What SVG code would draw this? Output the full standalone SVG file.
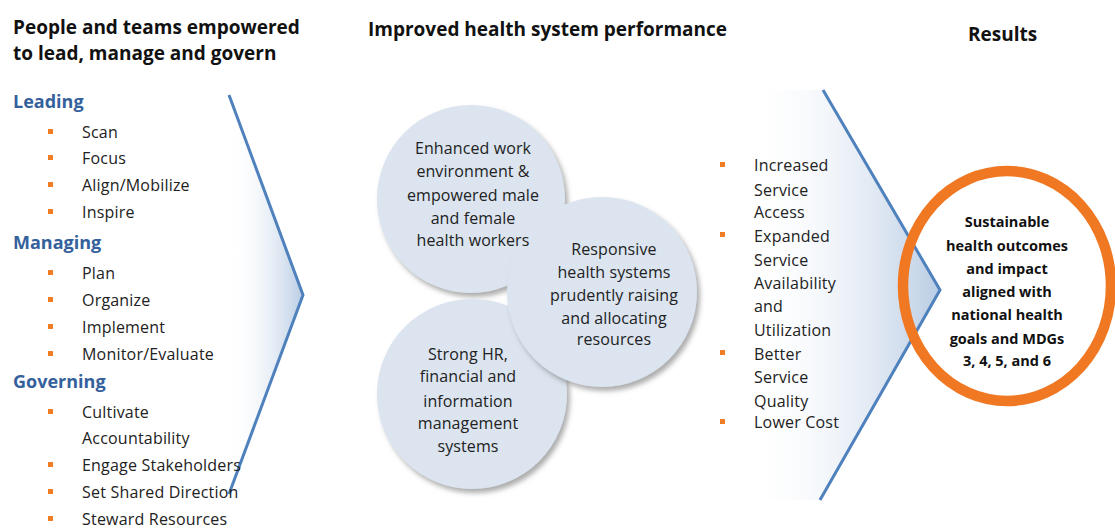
<svg xmlns="http://www.w3.org/2000/svg" width="1115" height="528" viewBox="0 0 1115 528">
<style>
text{font-family:"Open Sans","Liberation Sans",sans-serif;fill:#222}
.title{font-size:19px;font-weight:bold;fill:#111}
.sub{font-size:18px;font-weight:bold;fill:#34619c}
.item{font-size:16px;letter-spacing:0.2px}
.ctext{font-size:16px;letter-spacing:0.1px;text-anchor:middle}
.rtext{font-size:14.5px;font-weight:bold;text-anchor:middle;fill:#111}
.bul{fill:#f07c24}
.chev{fill:none;stroke:#4f81bd;stroke-width:3;stroke-linejoin:miter}
.circ{fill:#dbe4ef;filter:url(#sh)}
</style>
<defs>
<linearGradient id="g1" x1="0" y1="0" x2="1" y2="0">
<stop offset="0" stop-color="#ffffff" stop-opacity="0"/>
<stop offset="1" stop-color="#b9cce4"/>
</linearGradient>
<filter id="sh" x="-20%" y="-20%" width="140%" height="140%">
<feDropShadow dx="3" dy="4" stdDeviation="2.5" flood-color="#777" flood-opacity="0.6"/>
</filter>
</defs>

<g id="header-left">
<text class="title" x="13" y="34">People and teams empowered</text>
<text class="title" x="13" y="60">to lead, manage and govern</text>
</g>
<g id="header-mid"><text class="title" x="368" y="36">Improved health system performance</text></g>
<g id="header-right"><text class="title" x="968" y="41">Results</text></g>

<g id="connectors">
<polygon points="229,95 303,295 229,494" fill="url(#g1)"/>
<polyline class="chev" points="229,95 303,295 229,494"/>
<polygon points="745,90 823,90 940,290 820,500 745,500" fill="url(#g1)"/>
<polyline class="chev" points="823,90 940,290 820,500"/>
</g>

<g id="leading">
<text class="sub" x="13" y="108">Leading</text>
<rect class="bul" x="48" y="129" width="5" height="5"/><text class="item" x="82" y="138">Scan</text>
<rect class="bul" x="48" y="155" width="5" height="5"/><text class="item" x="82" y="164">Focus</text>
<rect class="bul" x="48" y="182" width="5" height="5"/><text class="item" x="82" y="191">Align/Mobilize</text>
<rect class="bul" x="48" y="209" width="5" height="5"/><text class="item" x="82" y="218">Inspire</text>
</g>
<g id="managing">
<text class="sub" x="13" y="249">Managing</text>
<rect class="bul" x="48" y="270" width="5" height="5"/><text class="item" x="82" y="279">Plan</text>
<rect class="bul" x="48" y="297" width="5" height="5"/><text class="item" x="82" y="306">Organize</text>
<rect class="bul" x="48" y="324" width="5" height="5"/><text class="item" x="82" y="333">Implement</text>
<rect class="bul" x="48" y="351" width="5" height="5"/><text class="item" x="82" y="360">Monitor/Evaluate</text>
</g>
<g id="governing">
<text class="sub" x="13" y="388">Governing</text>
<rect class="bul" x="48" y="409" width="5" height="5"/><text class="item" x="82" y="418">Cultivate</text>
<text class="item" x="82" y="444">Accountability</text>
<rect class="bul" x="48" y="462" width="5" height="5"/><text class="item" x="82" y="471">Engage Stakeholders</text>
<rect class="bul" x="48" y="489" width="5" height="5"/><text class="item" x="82" y="498">Set Shared Direction</text>
<rect class="bul" x="48" y="516" width="5" height="5"/><text class="item" x="82" y="525">Steward Resources</text>
</g>

<g id="circle-work">
<circle class="circ" cx="471" cy="199" r="94"/>
</g>
<g id="circle-hr">
<circle class="circ" cx="472" cy="394" r="95"/>
<text class="ctext" x="468" y="360">Strong HR,</text>
<text class="ctext" x="468" y="382">financial and</text>
<text class="ctext" x="468" y="407">information</text>
<text class="ctext" x="468" y="429">management</text>
<text class="ctext" x="468" y="452">systems</text>
</g>
<g id="circle-responsive">
<circle class="circ" cx="602" cy="292" r="95"/>
<text class="ctext" x="614" y="255">Responsive</text>
<text class="ctext" x="614" y="278">health systems</text>
<text class="ctext" x="614" y="301">prudently raising</text>
<text class="ctext" x="614" y="324">and allocating</text>
<text class="ctext" x="614" y="345">resources</text>
</g>
<g id="circle-work-label">
<text class="ctext" x="473" y="154">Enhanced work</text>
<text class="ctext" x="473" y="177">environment &amp;</text>
<text class="ctext" x="473" y="201">empowered male</text>
<text class="ctext" x="473" y="224">and female</text>
<text class="ctext" x="473" y="246">health workers</text>
</g>

<g id="outputs">
<rect class="bul" x="720" y="162" width="5" height="5"/><text class="item" x="754" y="171">Increased</text>
<text class="item" x="754" y="196">Service</text>
<text class="item" x="754" y="218">Access</text>
<rect class="bul" x="720" y="232" width="5" height="5"/><text class="item" x="754" y="242">Expanded</text>
<text class="item" x="754" y="266">Service</text>
<text class="item" x="754" y="289">Availability</text>
<text class="item" x="754" y="312">and</text>
<text class="item" x="754" y="336">Utilization</text>
<rect class="bul" x="720" y="350" width="5" height="5"/><text class="item" x="754" y="360">Better</text>
<text class="item" x="754" y="383">Service</text>
<text class="item" x="754" y="407">Quality</text>
<rect class="bul" x="720" y="419" width="5" height="5"/><text class="item" x="754" y="428">Lower Cost</text>
</g>

<g id="results">
<ellipse cx="1007" cy="286" rx="104" ry="115" fill="none" stroke="#f07822" stroke-width="10.5"/>
<text class="rtext" x="1007" y="227">Sustainable</text>
<text class="rtext" x="1007" y="251">health outcomes</text>
<text class="rtext" x="1007" y="274">and impact</text>
<text class="rtext" x="1007" y="297">aligned with</text>
<text class="rtext" x="1007" y="320">national health</text>
<text class="rtext" x="1007" y="344">goals and MDGs</text>
<text class="rtext" x="1007" y="366">3, 4, 5, and 6</text>
</g>
</svg>
